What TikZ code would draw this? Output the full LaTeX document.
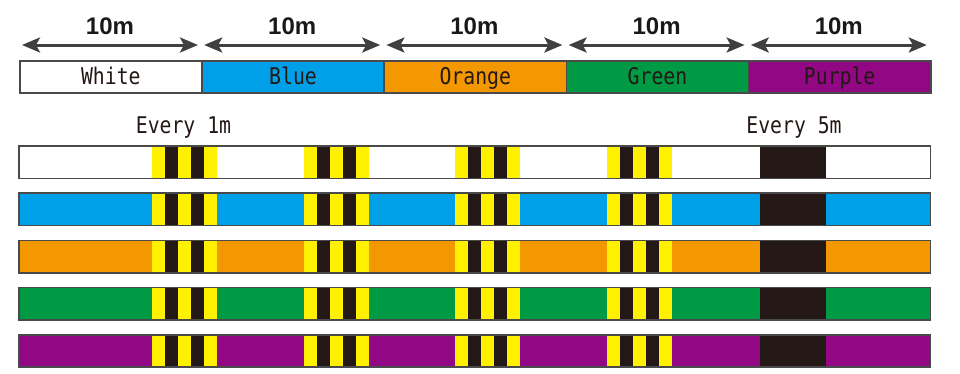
\documentclass[tikz,border=0pt]{standalone}
\usepackage{fontspec}
\setmainfont{Liberation Sans}
\newfontfamily\monofont{DejaVu Sans Mono}
\usetikzlibrary{arrows.meta}
\usepackage{xcolor}
\definecolor{lineblue}{HTML}{00A0E9}
\definecolor{lineorange}{HTML}{F39800}
\definecolor{linegreen}{HTML}{009944}
\definecolor{linepurple}{HTML}{920783}
\definecolor{markyellow}{HTML}{FFF100}
\definecolor{markblack}{HTML}{231815}
\definecolor{edgegray}{HTML}{4A4A4A}
\definecolor{arrowgray}{HTML}{404040}
\newcommand{\marktext}[1]{\scalebox{0.86}[1]{\monofont\fontsize{23}{23}\selectfont #1}}

\begin{document}
\begin{tikzpicture}[x=1pt,y=-1pt,
    segbox/.style={draw=edgegray, line width=1.5pt, minimum width=182.2pt, minimum height=32pt,
        inner sep=0pt, text height=20pt, text depth=4pt, anchor=north west, text=markblack},
    rowbar/.style={minimum width=911pt, minimum height=32pt, inner sep=0pt, anchor=north west},
    edge/.style={draw=edgegray, line width=1.5pt},
    dimarrow/.style={draw=arrowgray, line width=3pt,
        {Stealth[length=18pt, width=15pt, inset=4pt]}-{Stealth[length=18pt, width=15pt, inset=4pt]}},
    lenlabel/.style={font=\bfseries\fontsize{24}{24}\selectfont, text=black!90, inner sep=0pt}]
    \useasboundingbox (0,0) rectangle (960,373);
    % Top bar: one 10m section per colour
    \foreach \name/\col [count=\i] in {White/white,Blue/lineblue,Orange/lineorange,Green/linegreen,Purple/linepurple} {
        \node[segbox, fill=\col] (seg\i) at ({19+182.2*(\i-1)},60) {\marktext{\name}};
        \coordinate (l\i) at ({22+182.2*(\i-1)},45);
        \coordinate (r\i) at ({198+182.2*(\i-1)},45);
        \draw[dimarrow] (l\i) -- (r\i);
        \node[lenlabel] (len\i) at ({110+182.2*(\i-1)},26.5) {10m};
    }
    % Marker labels
    \node[inner sep=0pt, text=markblack] (every1) at (183.5,127.5) {\marktext{Every 1m}};
    \node[inner sep=0pt, text=markblack] (every5) at (794,127.5) {\marktext{Every 5m}};
    % Coloured lines with 1m and 5m marks
    \foreach \col [count=\j] in {white,lineblue,lineorange,linegreen,linepurple} {
        \node[rowbar, fill=\col] (row\j) at (19,{146+47.2*(\j-1)}) {};
        \foreach \k in {0,...,3} {
            \foreach \s/\c in {0/markyellow,1/markblack,2/markyellow,3/markblack,4/markyellow}
                \fill[\c] ({152+151.5*\k+13*\s},{146+47.2*(\j-1)}) rectangle +(13,32);
        }
        \fill[markblack] (760,{146+47.2*(\j-1)}) rectangle +(66,32);
        \draw[edge] (row\j.north west) rectangle (row\j.south east);
    }
\end{tikzpicture}
\end{document}
